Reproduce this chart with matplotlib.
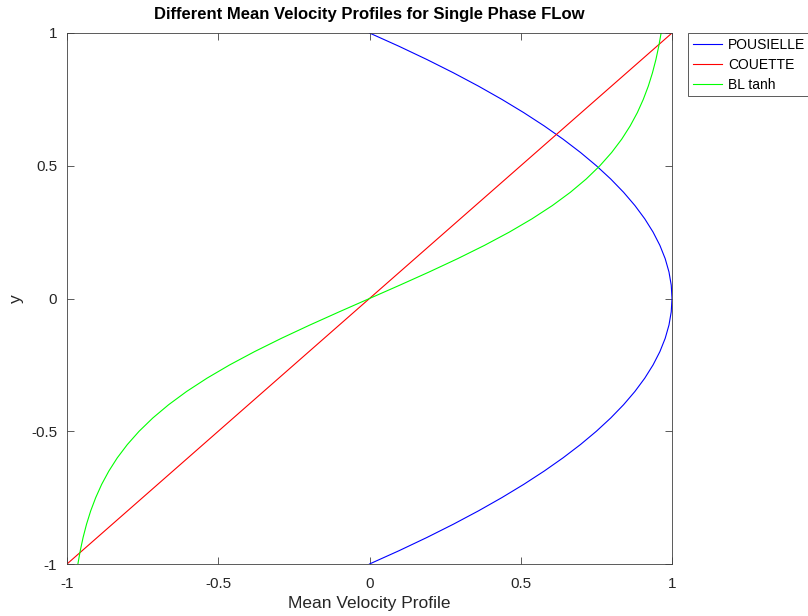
import matplotlib.pyplot as plt

plt.rcParams['font.family'] = ['Liberation Sans', 'DejaVu Sans']

# y positions across the channel (lower wall -> upper wall)
y_pts = [-1.0, -0.95, -0.9, -0.85, -0.8, -0.75, -0.7, -0.65, -0.6, -0.55, -0.5,
         -0.45, -0.4, -0.35, -0.3, -0.25, -0.2, -0.15, -0.1, -0.05, 0.0,
         0.05, 0.1, 0.15, 0.2, 0.25, 0.3, 0.35, 0.4, 0.45, 0.5,
         0.55, 0.6, 0.65, 0.7, 0.75, 0.8, 0.85, 0.9, 0.95, 1.0]

# Poiseuille profile
u_pous = [0.0, 0.0975, 0.19, 0.2775, 0.36, 0.4375, 0.51, 0.5775, 0.64, 0.6975, 0.75,
          0.7975, 0.84, 0.8775, 0.91, 0.9375, 0.96, 0.9775, 0.99, 0.9975, 1.0,
          0.9975, 0.99, 0.9775, 0.96, 0.9375, 0.91, 0.8775, 0.84, 0.7975, 0.75,
          0.6975, 0.64, 0.5775, 0.51, 0.4375, 0.36, 0.2775, 0.19, 0.0975, 0.0]

# Couette profile
u_couette = [-1.0, -0.95, -0.9, -0.85, -0.8, -0.75, -0.7, -0.65, -0.6, -0.55, -0.5,
             -0.45, -0.4, -0.35, -0.3, -0.25, -0.2, -0.15, -0.1, -0.05, 0.0,
             0.05, 0.1, 0.15, 0.2, 0.25, 0.3, 0.35, 0.4, 0.45, 0.5,
             0.55, 0.6, 0.65, 0.7, 0.75, 0.8, 0.85, 0.9, 0.95, 1.0]

# boundary-layer tanh profile
u_tanh = [-0.964, -0.9562, -0.9468, -0.9354, -0.9217, -0.9051, -0.8854, -0.8617,
          -0.8337, -0.8005, -0.7616, -0.7163, -0.664, -0.6044, -0.537, -0.4621,
          -0.3799, -0.2913, -0.1974, -0.0997, 0.0,
          0.0997, 0.1974, 0.2913, 0.3799, 0.4621, 0.537, 0.6044, 0.664, 0.7163,
          0.7616, 0.8005, 0.8337, 0.8617, 0.8854, 0.9051, 0.9217, 0.9354, 0.9468,
          0.9562, 0.964]

labels = ['POUSIELLE', 'COUETTE', 'BL tanh']
colors = ['#0000ff', '#ff0000', '#00ff00']
ticks = [-1, -0.5, 0, 0.5, 1]
tick_text = ['-1', '-0.5', '0', '0.5', '1']

fig = plt.figure(figsize=(8.08, 6.16), dpi=100)
ax = fig.add_axes([67/808, 1 - 564/616, (672 - 67)/808, (564 - 33)/616])

for u, lab, c in zip([u_pous, u_couette, u_tanh], labels, colors):
    ax.plot(u, y_pts, color=c, lw=0.8, label=lab)

ax.set_xlim(-1, 1)
ax.set_ylim(-1, 1)
ax.set_xticks(ticks)
ax.set_xticklabels(tick_text)
ax.set_yticks(ticks)
ax.set_yticklabels(tick_text)
ax.tick_params(direction='in', top=True, right=True, length=5, width=0.6,
               color='#404040', labelsize=11, labelcolor='#262626')
ax.tick_params(axis='x', pad=9)
ax.tick_params(axis='y', pad=7)
for s in ax.spines.values():
    s.set_color('#404040')
    s.set_linewidth(0.6)

ax.set_xlabel('Mean Velocity Profile', fontsize=12.5, color='#262626', labelpad=4)
ax.set_ylabel('y', fontsize=12.5, color='#262626', labelpad=5)
ax.set_title('Different Mean Velocity Profiles for Single Phase FLow',
             fontsize=12, fontweight='bold', pad=10)

leg = fig.legend(loc='upper left', bbox_to_anchor=(688/808, 1 - 33/616),
                 fontsize=10, fancybox=False, framealpha=1, edgecolor='#404040',
                 handlelength=2.1, borderpad=0.35, labelspacing=0.42, handletextpad=0.45,
                 borderaxespad=0)
leg.get_frame().set_linewidth(0.6)

fig.savefig('out.png', dpi=100)
